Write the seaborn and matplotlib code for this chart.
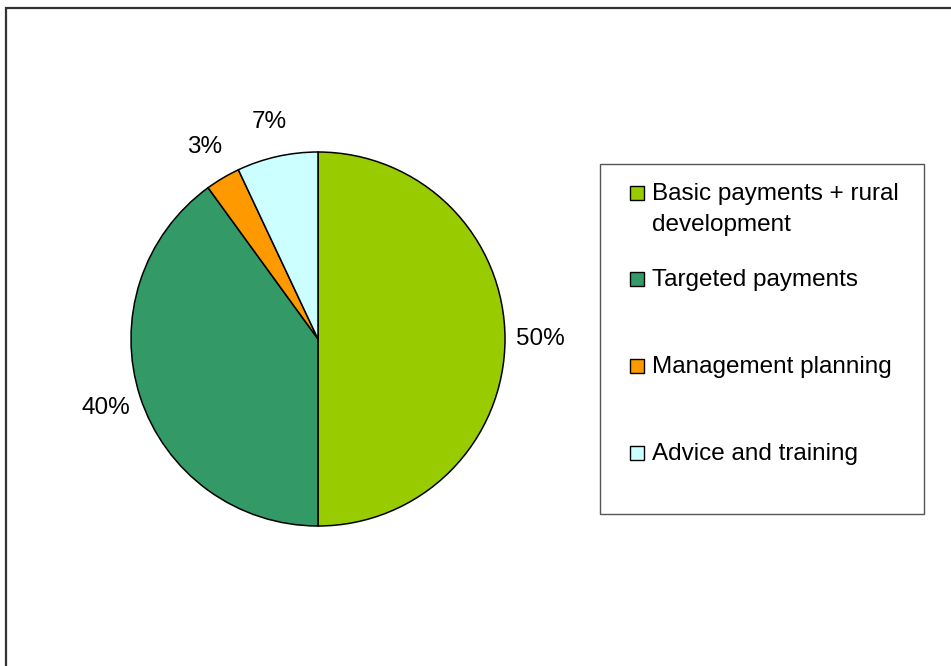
import matplotlib
matplotlib.use("Agg")
import matplotlib.pyplot as plt
from matplotlib.patches import Rectangle
import seaborn as sns

# Budget shares by measure (percent)
categories = [
    "Basic payments + rural\ndevelopment",
    "Targeted payments",
    "Management planning",
    "Advice and training",
]
shares = [50, 40, 3, 7]
hex_colors = ["#99CC00", "#339966", "#FF9900", "#CCFFFF"]

sns.set_style("white")
plt.rcParams["font.family"] = ["Liberation Sans", "DejaVu Sans"]
palette = sns.color_palette(hex_colors)

W, H = 951, 666
FS = 17.5
fig = plt.figure(figsize=(W / 100, H / 100), dpi=100)
fig.patch.set_facecolor("white")

# Pie axes: centre (318, 339) px, radius 187 px
cx, cy, r = 318, 339, 187
ax = fig.add_axes([(cx - r) / W, (H - cy - r) / H, 2 * r / W, 2 * r / H])
wedges, _, pct_texts = ax.pie(
    shares,
    colors=palette,
    startangle=90,
    counterclock=False,
    radius=1.0,
    autopct=lambda p: f"{p:.0f}%",
    pctdistance=1.19,
    wedgeprops=dict(edgecolor="black", linewidth=1.1),
    textprops=dict(fontsize=FS, color="black"),
)
for t in pct_texts:
    t.set_clip_on(False)
ax.set_xlim(-1, 1)
ax.set_ylim(-1, 1)
ax.set_aspect("equal")
ax.axis("off")


# Legend drawn in figure pixel coordinates converted to fractions
def fx(px):
    return px / W


def fy(py):
    return 1 - py / H


box_l, box_t, box_r, box_b = 600, 164, 924, 514
fig.add_artist(Rectangle((fx(box_l), fy(box_b)), fx(box_r - box_l), (box_b - box_t) / H,
                         transform=fig.transFigure, facecolor="white",
                         edgecolor="#555555", linewidth=1.0))

first_baselines = [200, 286, 373, 460]
line_step = 31
msize = 14
for label, col, base in zip(categories, palette, first_baselines):
    mc = base - 7
    fig.add_artist(Rectangle((fx(630), fy(mc + msize / 2)), fx(msize), msize / H,
                             transform=fig.transFigure, facecolor=col,
                             edgecolor="black", linewidth=1.0))
    n_extra = label.count("\n")
    fig.text(fx(652), fy(base + n_extra * line_step), label, fontsize=FS,
             ha="left", va="baseline", linespacing=1.55, color="black")

# Outer frame: top and left edges visible
fig.add_artist(Rectangle((fx(6), fy(H + 20)), fx(W + 20), (H + 20 - 8) / H,
                         transform=fig.transFigure, fill=False,
                         edgecolor="#333333", linewidth=1.6))

fig.savefig("out.png", dpi=100, facecolor="white")
